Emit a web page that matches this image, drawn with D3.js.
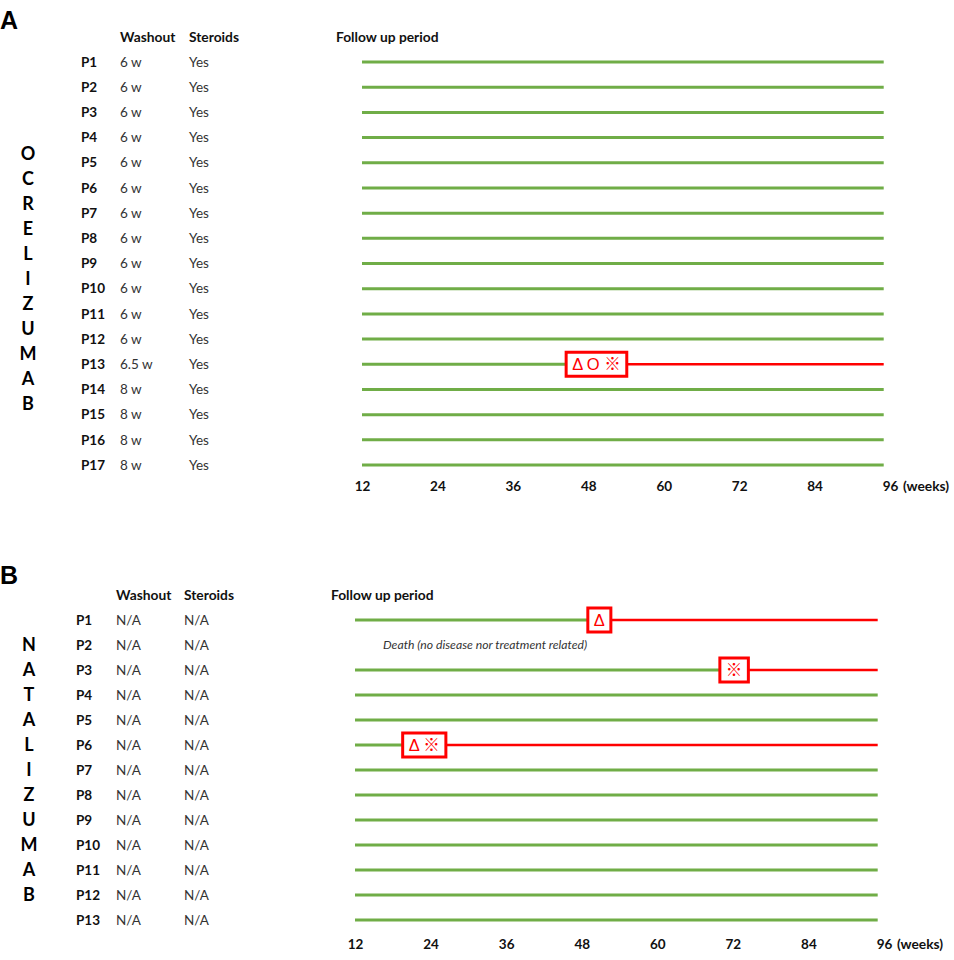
<!DOCTYPE html>
<html>
<head>
<meta charset="utf-8">
<script src="https://cdn.jsdelivr.net/npm/d3@7"></script>
<style>
  body { margin: 0; background: #fff; }
  text { font-family: Lato, "Open Sans", sans-serif; }
</style>
</head>
<body>
<div id="chart"></div>
<script>
// data
var weekTicks = [12, 24, 36, 48, 60, 72, 84, 96];
var followStart = 12;
var followEnd = 95;

var drugA = "OCRELIZUMAB";
var patientsA = ["P1", "P2", "P3", "P4", "P5", "P6", "P7", "P8", "P9",
  "P10", "P11", "P12", "P13", "P14", "P15", "P16", "P17"];
var washoutA = ["6 w", "6 w", "6 w", "6 w", "6 w", "6 w", "6 w", "6 w", "6 w",
  "6 w", "6 w", "6 w", "6.5 w", "8 w", "8 w", "8 w", "8 w"];
var steroidsA = ["Yes", "Yes", "Yes", "Yes", "Yes", "Yes", "Yes", "Yes", "Yes",
  "Yes", "Yes", "Yes", "Yes", "Yes", "Yes", "Yes", "Yes"];
var eventsA = [
  { patient: "P13", week: 49.3, symbols: "\u0394 O \u203B" }
];
var noLineA = [];
var notesA = [];

var drugB = "NATALIZUMAB";
var patientsB = ["P1", "P2", "P3", "P4", "P5", "P6", "P7", "P8", "P9",
  "P10", "P11", "P12", "P13"];
var washoutB = ["N/A", "N/A", "N/A", "N/A", "N/A", "N/A", "N/A", "N/A", "N/A",
  "N/A", "N/A", "N/A", "N/A"];
var steroidsB = ["N/A", "N/A", "N/A", "N/A", "N/A", "N/A", "N/A", "N/A", "N/A",
  "N/A", "N/A", "N/A", "N/A"];
var eventsB = [
  { patient: "P1", week: 50.8, symbols: "\u0394" },
  { patient: "P3", week: 72.2, symbols: "\u203B" },
  { patient: "P6", week: 23.0, symbols: "\u0394 \u203B" }
];
var noLineB = ["P2"];
var notesB = [{ patient: "P2", text: "Death (no disease nor treatment related)" }];

var green = "#70ad47";
var red = "#ff0000";

var svg = d3.select("#chart")
  .append("svg")
  .attr("width", 954)
  .attr("height", 960);

function drawPanel(p) {
  var g = svg.append("g");

  var y = d3.scalePoint()
    .domain(p.patients)
    .range([p.rowTop, p.rowBottom]);

  var x = d3.scaleLinear()
    .domain([12, 96])
    .range([p.xLeft, p.xRight]);

  // panel letter
  g.append("text")
    .attr("x", 0)
    .attr("y", p.letterY)
    .style("font-family", "'Liberation Sans', Arial, sans-serif")
    .style("font-weight", "bold")
    .style("font-size", "25px")
    .text(p.letter);

  // headers
  var head = [
    { t: "Washout", x: p.washX },
    { t: "Steroids", x: p.sterX },
    { t: "Follow up period", x: p.followX }
  ];
  g.selectAll(".head")
    .data(head)
    .enter()
    .append("text")
    .attr("x", d => d.x)
    .attr("y", p.headY)
    .attr("dy", "0.35em")
    .style("font-weight", "bold")
    .style("font-size", "13.8px")
    .attr("fill", "#111")
    .text(d => d.t);

  // drug name, one letter per line
  g.selectAll(".drug")
    .data(p.drug.split(""))
    .enter()
    .append("text")
    .attr("x", p.drugX)
    .attr("y", (d, i) => p.drugTop + i * p.drugStep)
    .attr("dy", "0.35em")
    .attr("text-anchor", "middle")
    .style("font-weight", "bold")
    .style("font-size", "18px")
    .attr("fill", "#000")
    .text(d => d);

  // table columns
  var rows = g.selectAll(".row")
    .data(p.patients)
    .enter()
    .append("g")
    .attr("transform", d => `translate(0, ${y(d)})`);

  rows.append("text")
    .attr("x", p.patX)
    .attr("dy", "0.35em")
    .style("font-weight", "bold")
    .style("font-size", "13.5px")
    .attr("fill", "#111")
    .text(d => d);

  rows.append("text")
    .attr("x", p.washX)
    .attr("dy", "0.35em")
    .style("font-size", "13.5px")
    .attr("fill", "#333")
    .text((d, i) => p.washout[i]);

  rows.append("text")
    .attr("x", p.sterX)
    .attr("dy", "0.35em")
    .style("font-size", "13.5px")
    .attr("fill", "#333")
    .text((d, i) => p.steroids[i]);

  // follow up lines
  var lineRows = p.patients.filter(d => p.noLine.indexOf(d) < 0);
  lineRows.forEach(function(pt) {
    var ev = p.events.find(e => e.patient === pt);
    var yy = y(pt);
    if (!ev) {
      g.append("line")
        .attr("x1", x(followStart)).attr("x2", x(followEnd))
        .attr("y1", yy).attr("y2", yy)
        .attr("stroke", green)
        .attr("stroke-width", 3);
      return;
    }
    var t = g.append("text")
      .attr("x", x(ev.week))
      .attr("y", yy)
      .attr("dy", "0.36em")
      .attr("text-anchor", "middle")
      .style("font-family", "'Liberation Sans', 'Noto Sans CJK JP', sans-serif")
      .style("font-size", "16.5px")
      .attr("fill", red)
      .text(ev.symbols);
    var bb = t.node().getBBox();
    var w = bb.width + 12;
    var h = 24;
    var left = x(ev.week) - w / 2;
    g.insert("line", "text")
      .attr("x1", x(followStart)).attr("x2", left)
      .attr("y1", yy).attr("y2", yy)
      .attr("stroke", green)
      .attr("stroke-width", 3);
    g.insert("line", "text")
      .attr("x1", left + w).attr("x2", x(followEnd))
      .attr("y1", yy).attr("y2", yy)
      .attr("stroke", red)
      .attr("stroke-width", 2.5);
    g.insert("rect", "text")
      .attr("x", left)
      .attr("y", yy - h / 2)
      .attr("width", w)
      .attr("height", h)
      .attr("fill", "#fff")
      .attr("stroke", red)
      .attr("stroke-width", 3);
  });

  // notes
  g.selectAll(".note")
    .data(p.notes)
    .enter()
    .append("text")
    .attr("x", p.noteX)
    .attr("y", d => y(d.patient))
    .attr("dy", "0.35em")
    .style("font-style", "italic")
    .style("font-size", "12.2px")
    .attr("fill", "#333")
    .text(d => d.text);

  // week axis
  var axis = d3.axisBottom(x)
    .tickValues(weekTicks)
    .tickSize(0)
    .tickFormat(d3.format("d"));
  var ax = g.append("g")
    .attr("transform", `translate(0, ${p.axisY})`)
    .call(axis);
  ax.select(".domain").remove();
  ax.selectAll("text")
    .attr("y", 0)
    .attr("dy", "0.35em")
    .style("font-family", "Lato, sans-serif")
    .style("font-weight", "bold")
    .style("font-size", "13.5px")
    .attr("fill", "#111");

  g.append("text")
    .attr("x", x(96) + 13)
    .attr("y", p.axisY)
    .attr("dy", "0.35em")
    .style("font-weight", "bold")
    .style("font-size", "13.8px")
    .attr("fill", "#111")
    .text("(weeks)");
}

drawPanel({
  letter: "A", letterY: 29, drug: drugA, patients: patientsA,
  washout: washoutA, steroids: steroidsA, events: eventsA,
  noLine: noLineA, notes: notesA,
  headY: 37, rowTop: 62, rowBottom: 465,
  patX: 81, washX: 120, sterX: 189, followX: 336,
  drugX: 28, drugTop: 154, drugStep: 25,
  xLeft: 362, xRight: 890, axisY: 486, noteX: 383
});

drawPanel({
  letter: "B", letterY: 584, drug: drugB, patients: patientsB,
  washout: washoutB, steroids: steroidsB, events: eventsB,
  noLine: noLineB, notes: notesB,
  headY: 595, rowTop: 620, rowBottom: 920,
  patX: 76, washX: 116, sterX: 184, followX: 331,
  drugX: 29, drugTop: 645, drugStep: 25,
  xLeft: 355, xRight: 884, axisY: 944, noteX: 383
});
</script>
</body>
</html>
